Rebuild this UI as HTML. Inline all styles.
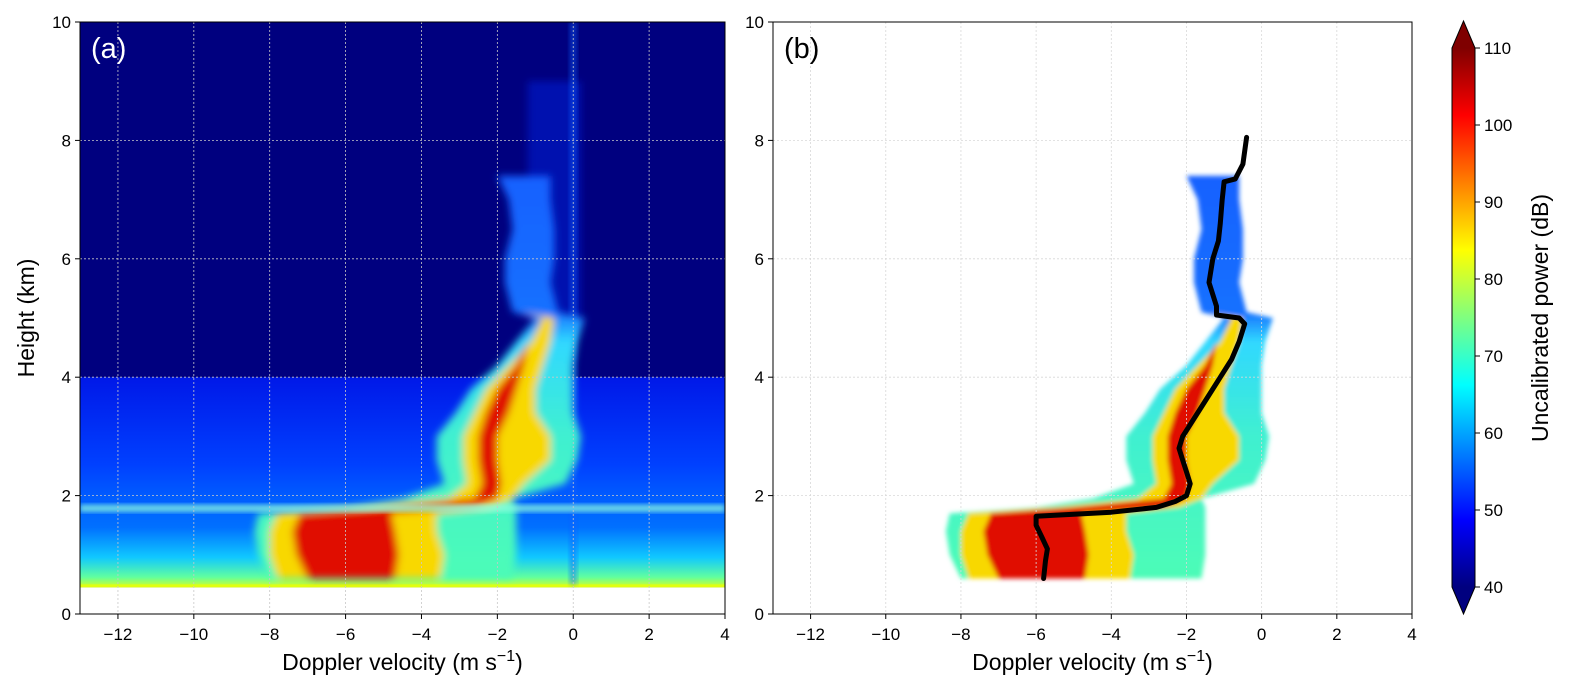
<!DOCTYPE html>
<html><head><meta charset="utf-8"><style>
html,body{margin:0;padding:0;background:#fff;width:1576px;height:695px;overflow:hidden}
svg text{font-family:"Liberation Sans",sans-serif}
</style></head><body>
<svg id="fig" width="1576" height="695" viewBox="0 0 1576 695" xmlns="http://www.w3.org/2000/svg">
<defs>
<filter id="blur" x="-20%" y="-20%" width="140%" height="140%"><feGaussianBlur stdDeviation="4"/></filter>
<filter id="blur2" x="-20%" y="-20%" width="140%" height="140%"><feGaussianBlur stdDeviation="2.5"/></filter>
<linearGradient id="noiseLow" x1="0" y1="1" x2="0" y2="0">
<stop offset="0" stop-color="#d8ff20"/><stop offset="0.12" stop-color="#60ffa0"/><stop offset="0.35" stop-color="#10c8ff"/><stop offset="0.7" stop-color="#0070ff"/><stop offset="1" stop-color="#0060ff"/></linearGradient>
<linearGradient id="noiseMid" x1="0" y1="1" x2="0" y2="0">
<stop offset="0" stop-color="#0060ff"/><stop offset="0.3" stop-color="#0040ff"/><stop offset="1" stop-color="#0018e8"/></linearGradient>
<linearGradient id="outerGrad" gradientUnits="userSpaceOnUse" x1="0" y1="614" x2="0" y2="22">
<stop offset="0" stop-color="#50ffb0"/><stop offset="0.3" stop-color="#40f0d0"/><stop offset="0.46" stop-color="#30d8ff"/><stop offset="0.51" stop-color="#1870ff"/><stop offset="1" stop-color="#1050ff"/></linearGradient>
<linearGradient id="cbar" x1="0" y1="1" x2="0" y2="0">
<stop offset="0" stop-color="#00007f"/><stop offset="0.125" stop-color="#0000ff"/><stop offset="0.375" stop-color="#00ffff"/><stop offset="0.625" stop-color="#ffff00"/><stop offset="0.875" stop-color="#ff0000"/><stop offset="1" stop-color="#7f0000"/></linearGradient>
<clipPath id="clipA"><rect x="80" y="22" width="645" height="592"/></clipPath>
<clipPath id="clipB"><rect x="773" y="22" width="639" height="592"/></clipPath>
</defs>
<g id="panelA"></g>
<g id="panelB"></g>
<g id="colorbar"></g>
</svg>
<script>
// ---- data ----
const xTicks = [-12,-10,-8,-6,-4,-2,0,2,4];
const yTicks = [0,2,4,6,8,10];
const cbTicks = [40,50,60,70,80,90,100,110];
const sigHeights = [0.6,1.0,1.4,1.7,1.8,1.95,2.2,2.6,3.0,3.4,3.8,4.2,4.6,5.0,5.1,5.6,6.0,6.5,7.0,7.4];
const outerL = [-8.0,-8.3,-8.4,-8.3,-6.0,-4.5,-3.4,-3.6,-3.6,-3.1,-2.7,-2.0,-1.5,-1.0,-1.6,-1.8,-1.8,-1.6,-1.7,-2.0];
const outerR = [-1.6,-1.5,-1.5,-1.5,-1.5,-1.6,-0.2,0.1,0.2,0.0,0.0,0.0,0.1,0.3,-0.4,-0.6,-0.5,-0.5,-0.6,-0.6];
const midL = [-7.8,-8.0,-8.0,-7.8,-5.5,-3.3,-2.8,-2.9,-2.9,-2.6,-2.3,-1.7,-1.1,-0.8,-1.4,-1.4,-1.4,-1.3,-1.3,-1.3];
const midR = [-3.5,-3.4,-3.6,-3.6,-2.2,-1.6,-1.3,-0.6,-0.6,-1.0,-1.0,-0.8,-0.6,-0.5,-1.4,-1.4,-1.4,-1.3,-1.3,-1.3];
const coreL = [-7.0,-7.3,-7.4,-7.2,-5.0,-2.6,-2.4,-2.5,-2.5,-2.3,-2.0,-1.5,-1.2,-1.0,-1.2,-1.2,-1.2,-1.2,-1.2,-1.2];
const coreR = [-4.7,-4.6,-4.7,-4.8,-2.6,-2.0,-1.9,-2.0,-2.0,-1.7,-1.5,-1.3,-1.2,-1.0,-1.2,-1.2,-1.2,-1.2,-1.2,-1.2];
const profH = [0.6,0.9,1.1,1.3,1.5,1.65,1.72,1.8,1.9,2.0,2.2,2.4,2.6,2.8,3.0,3.3,3.6,4.0,4.3,4.6,4.9,5.0,5.05,5.2,5.6,6.0,6.3,6.6,7.0,7.3,7.35,7.6,8.05];
const profV = [-5.8,-5.75,-5.7,-5.85,-6.0,-6.0,-4.0,-2.8,-2.3,-2.0,-1.9,-2.0,-2.1,-2.2,-2.1,-1.8,-1.5,-1.1,-0.8,-0.6,-0.45,-0.6,-1.2,-1.2,-1.4,-1.3,-1.15,-1.1,-1.05,-1.0,-0.7,-0.5,-0.4];

const NS='http://www.w3.org/2000/svg';
function mk(tag, attrs, parent){const e=document.createElementNS(NS,tag);for(const k in attrs)e.setAttribute(k,attrs[k]);if(parent)parent.appendChild(e);return e;}
const Y0=614,Y1=22;
function yS(h){return Y0-(h/10)*(Y0-Y1);}
function mkX(x0,x1){return v=>x0+(v+13)/17*(x1-x0);}
function band(xs,L,R){let p=[];for(let i=0;i<sigHeights.length;i++)p.push(xs(L[i]).toFixed(1)+','+yS(sigHeights[i]).toFixed(1));for(let i=sigHeights.length-1;i>=0;i--)p.push(xs(R[i]).toFixed(1)+','+yS(sigHeights[i]).toFixed(1));return p.join(' ');}

function drawPanel(g,x0,x1,isA,label,clip){
  const xs=mkX(x0,x1);
  const data=mk('g',{'clip-path':'url(#'+clip+')'},g);
  if(isA){
    const bg=mk('rect',{x:x0,y:Y1,width:x1-x0,height:Y0-Y1,fill:'#00007f'},data);
    
    
    mk('rect',{x:x0,y:yS(4),width:x1-x0,height:yS(1.9)-yS(4),fill:'url(#noiseMid)'},data);
    mk('rect',{x:x0,y:yS(1.9),width:x1-x0,height:yS(0.45)-yS(1.9),fill:'url(#noiseLow)'},data);
    mk('rect',{x:x0,y:yS(0.45),width:x1-x0,height:yS(0)-yS(0.45),fill:'#ffffff'},data);
    mk('rect',{x:x0,y:yS(0.5),width:x1-x0,height:yS(0.45)-yS(0.5),fill:'#e0ff10'},data);
    mk('rect',{x:xs(-1.2),y:yS(9.0),width:xs(0.2)-xs(-1.2),height:yS(5)-yS(9.0),fill:'#0020e0',opacity:0.5,filter:'url(#blur)'},data);
    mk('rect',{x:xs(-0.1),y:yS(10),width:xs(0.1)-xs(-0.1),height:yS(0.5)-yS(10),fill:'#1060ff',opacity:0.45,filter:'url(#blur2)'},data);
  }
  const sg=mk('g',{filter:isA?'url(#blur)':'url(#blur2)'},data);
  const o=mk('polygon',{points:band(xs,outerL,outerR),fill:'url(#outerGrad)'},sg);
  
  
  const m=mk('polygon',{points:band(xs,midL,midR),fill:'#f8d800'},sg);
  
  
  const c=mk('polygon',{points:band(xs,coreL,coreR),fill:'#e01000'},sg);
  
  
  if(isA){
    mk('rect',{x:x0,y:yS(1.85),width:x1-x0,height:yS(1.72)-yS(1.85),fill:'#90ffe0',opacity:0.7,filter:'url(#blur2)'},data);
  }
  // grid
  xTicks.forEach(t=>{const l=mk('line',{x1:xs(t),x2:xs(t),y1:Y1,y2:Y0,stroke:isA?'#c8c8c8':'#d8d8d8','stroke-width':0.8,'stroke-dasharray':'2,2'},g);
    
    });
  yTicks.forEach(t=>{const l=mk('line',{x1:x0,x2:x1,y1:yS(t),y2:yS(t),stroke:isA?'#c8c8c8':'#d8d8d8','stroke-width':0.8,'stroke-dasharray':'2,2'},g);
    
    });
  if(!isA){
    let pts=profH.map((h,i)=>xs(profV[i]).toFixed(1)+','+yS(h).toFixed(1)).join(' ');
    const pl=mk('polyline',{points:pts,fill:'none',stroke:'#000','stroke-width':5,'stroke-linejoin':'round','stroke-linecap':'round'},g);
    
    
  }
  mk('rect',{x:x0,y:Y1,width:x1-x0,height:Y0-Y1,fill:'none',stroke:'#000','stroke-width':1},g);
  xTicks.forEach(t=>{mk('line',{x1:xs(t),x2:xs(t),y1:Y0,y2:Y0+5,stroke:'#000'},g);
    const tx=mk('text',{x:xs(t),y:Y0+26,'font-size':17,'text-anchor':'middle'},g);tx.textContent=(t<0?'\u2212'+(-t):t);
    
    });
  yTicks.forEach(t=>{mk('line',{x1:x0-5,x2:x0,y1:yS(t),y2:yS(t),stroke:'#000'},g);
    const tx=mk('text',{x:x0-9,y:yS(t)+6,'font-size':17,'text-anchor':'end'},g);tx.textContent=t;
    
    });
  const xl=mk('text',{x:(x0+x1)/2,y:670,'font-size':23,'text-anchor':'middle'},g);
  xl.innerHTML='Doppler velocity (m s<tspan dy="-9" font-size="16">\u22121</tspan><tspan dy="9">)</tspan>';
  
  
  const pl=mk('text',{x:x0+11,y:58,'font-size':29,fill:isA?'#fff':'#000'},g);pl.textContent=label;
  
  
}
drawPanel(document.getElementById('panelA'),80,725,true,'(a)','clipA');
drawPanel(document.getElementById('panelB'),773,1412,false,'(b)','clipB');
const ga=document.getElementById('panelA');
const yl=mk('text',{x:0,y:0,'font-size':23,'text-anchor':'middle',transform:'translate(34,318) rotate(-90)'},ga);
yl.textContent='Height (km)';


// colorbar
const cb=document.getElementById('colorbar');
const cx0=1452,cx1=1475,cTop=48,cBot=587;
mk('polygon',{points:`${cx0},${cTop} ${cx1},${cTop} ${(cx0+cx1)/2},21`,fill:'#7f0000'},cb);
mk('polygon',{points:`${cx0},${cBot} ${cx1},${cBot} ${(cx0+cx1)/2},614`,fill:'#00007f'},cb);
mk('rect',{x:cx0,y:cTop,width:cx1-cx0,height:cBot-cTop,fill:'url(#cbar)'},cb);
mk('polygon',{points:`${(cx0+cx1)/2},21 ${cx1},${cTop} ${cx1},${cBot} ${(cx0+cx1)/2},614 ${cx0},${cBot} ${cx0},${cTop}`,fill:'none',stroke:'#000','stroke-width':1},cb);
cbTicks.forEach(t=>{const y=cBot-(t-40)/70*(cBot-cTop);
  mk('line',{x1:cx1,x2:cx1+5,y1:y,y2:y,stroke:'#000'},cb);
  const tx=mk('text',{x:cx1+9,y:y+6,'font-size':17},cb);tx.textContent=t;
  
  });
const cl=mk('text',{x:0,y:0,'font-size':23,'text-anchor':'middle',transform:'translate(1548,318) rotate(-90)'},cb);
cl.textContent='Uncalibrated power (dB)';


</script>
</body></html>
